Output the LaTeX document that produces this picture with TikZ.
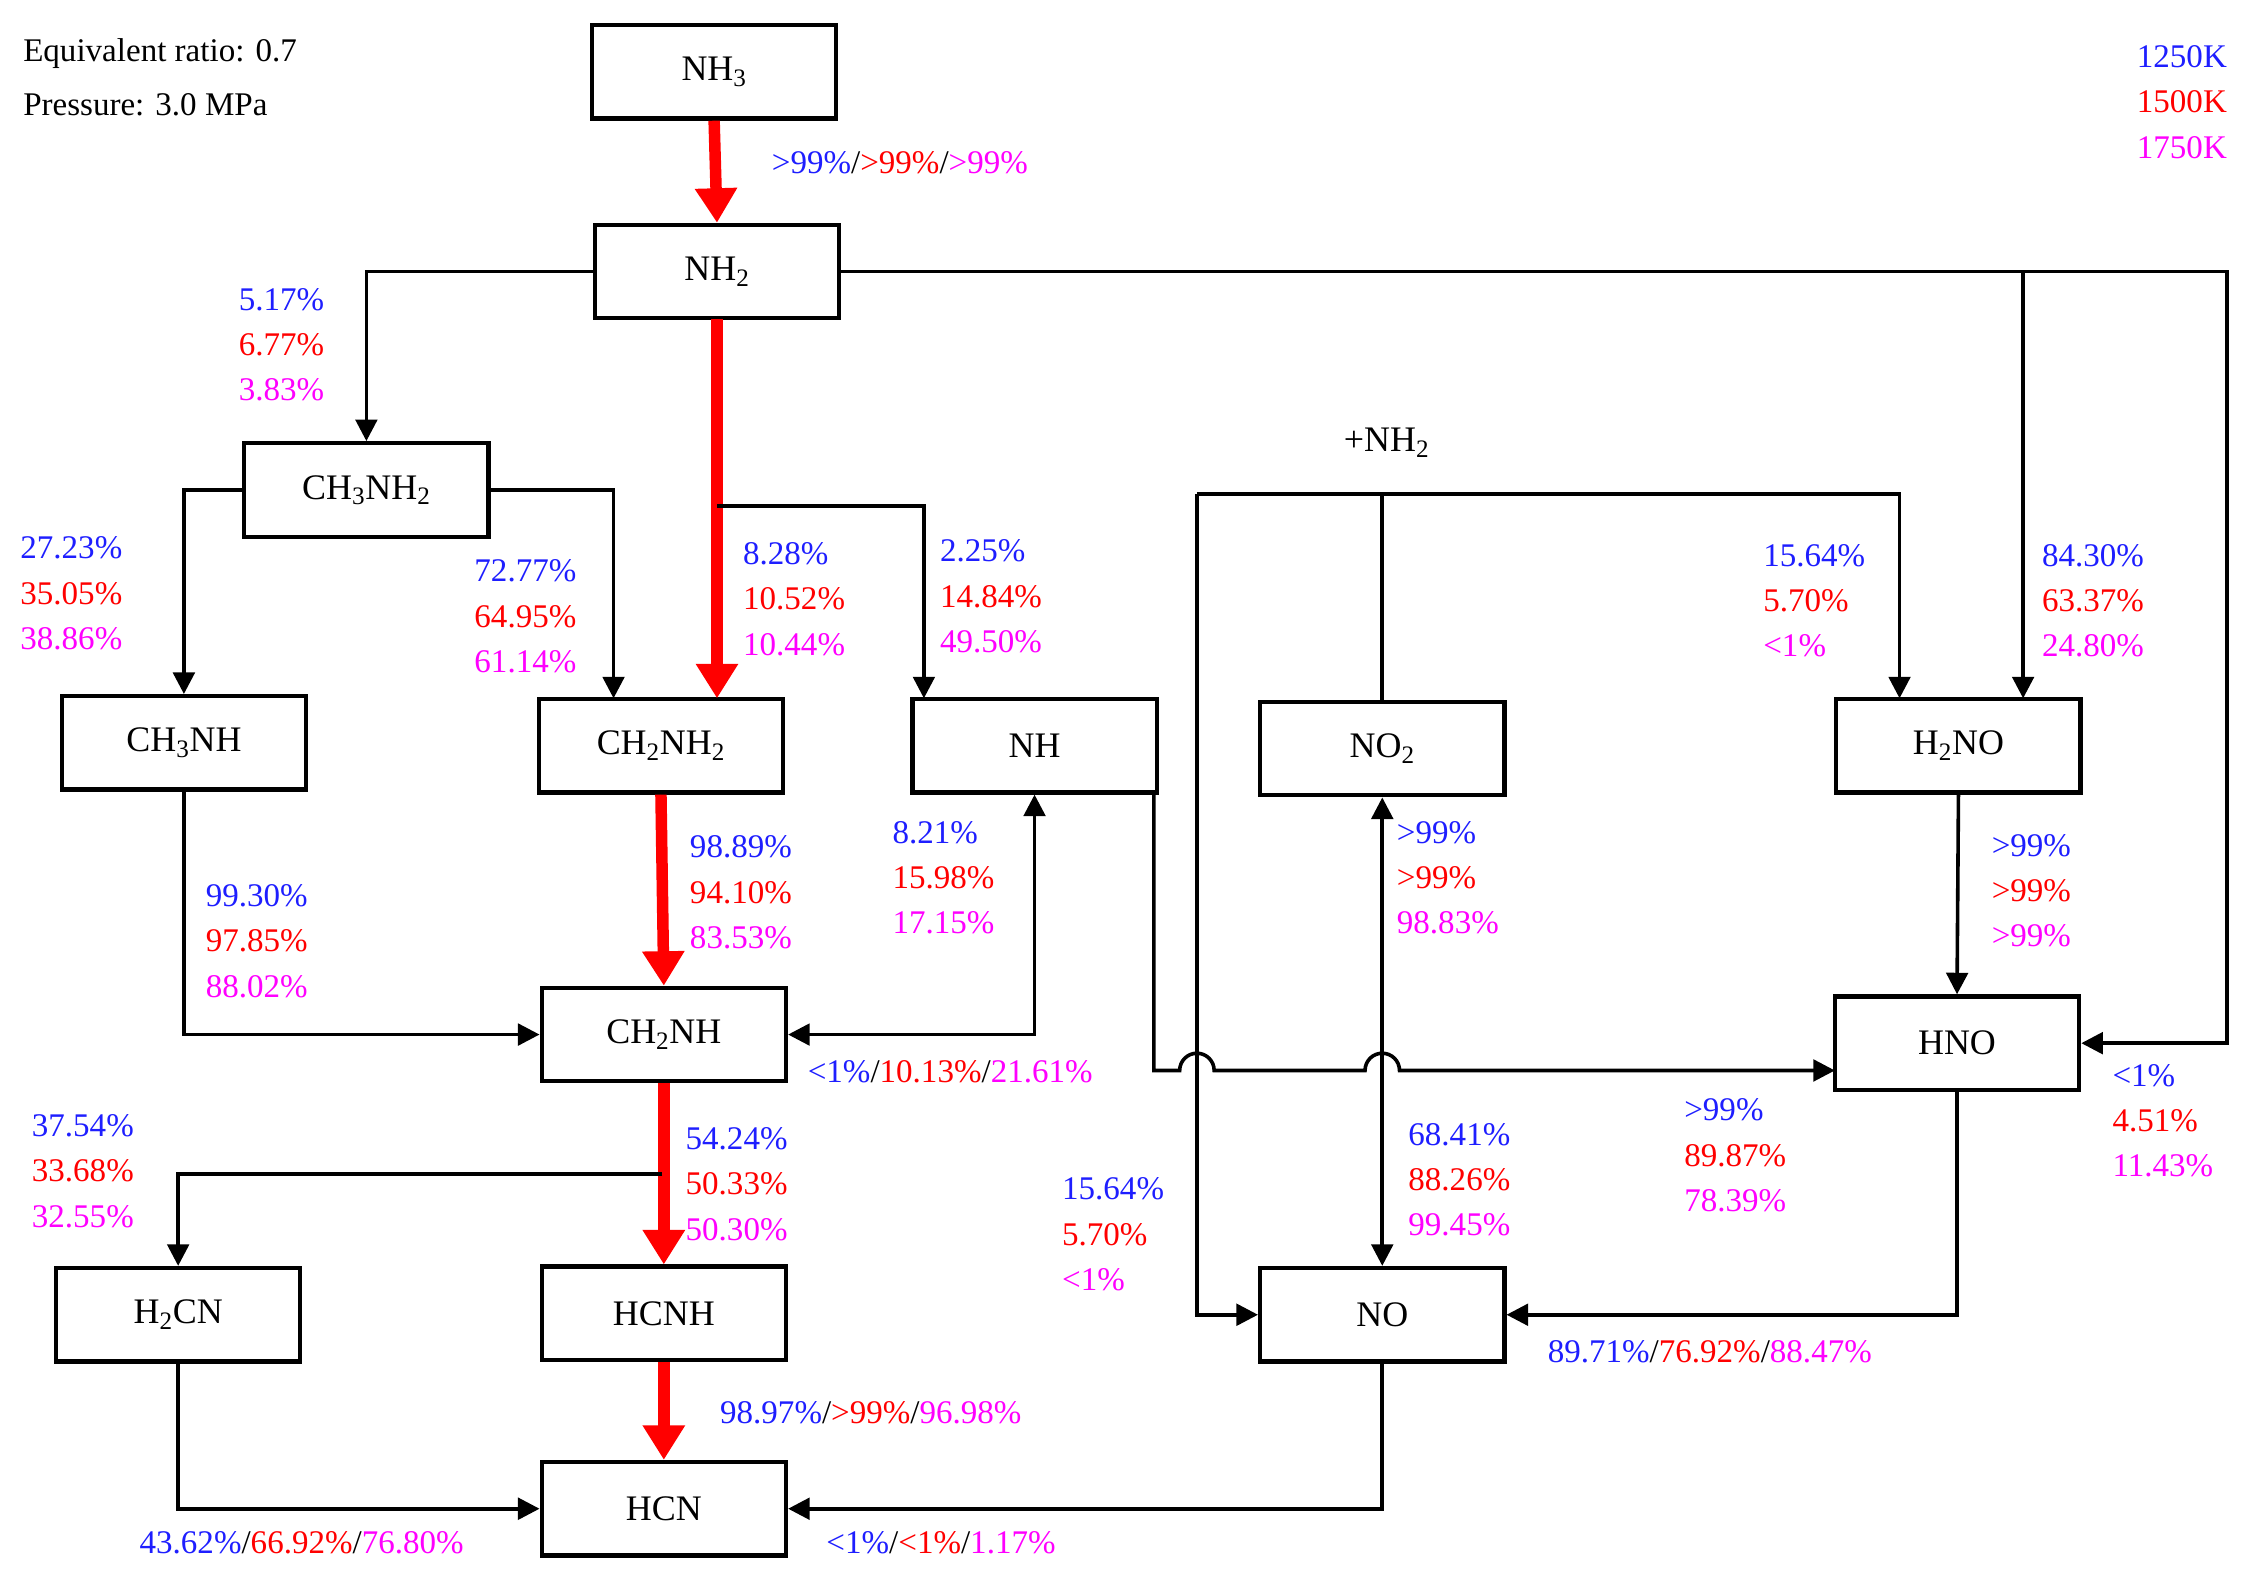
\documentclass[tikz,border=0pt]{standalone}
\usepackage{fontspec}
\setmainfont{Liberation Serif}
\usetikzlibrary{arrows.meta}
\definecolor{cb}{RGB}{30,30,255}
\definecolor{cr}{RGB}{255,0,0}
\definecolor{cm}{RGB}{255,0,255}
\newcommand{\tri}[3]{\textcolor{cb}{#1}\\\textcolor{cr}{#2}\\\textcolor{cm}{#3}}
\newcommand{\lin}[3]{\textcolor{cb}{#1}/\textcolor{cr}{#2}/\textcolor{cm}{#3}}
\begin{document}
\begin{tikzpicture}[x=1pt,y=-1pt,
 box/.style={draw,line width=3pt,minimum width=170pt,minimum height=65pt,inner sep=0pt,font=\fontsize{25}{30}\selectfont},
 lab/.style={anchor=west,align=left,inner sep=0pt,font=\fontsize{23}{31.5}\selectfont},
 ar/.style={line width=2.5pt,-{Triangle[length=15pt,width=15pt]}},
 ln/.style={line width=2.5pt},
 big/.style={line width=8pt,draw=red,-{Triangle[length=24pt,width=28pt]},fill=red}]
\useasboundingbox (0,0) rectangle (1568,1100);
\node[box] (nh3) at (497,50) {NH\textsubscript{3}};
\node[box] (nh2) at (499,189) {NH\textsubscript{2}};
\node[box] (mea) at (255,341) {CH\textsubscript{3}NH\textsubscript{2}};
\node[box] (ch3nh) at (128,517) {CH\textsubscript{3}NH};
\node[box] (ch2nh2) at (460,519) {CH\textsubscript{2}NH\textsubscript{2}};
\node[box] (nh) at (720,519) {NH};
\node[box] (no2) at (962,521) {NO\textsubscript{2}};
\node[box] (h2no) at (1363,519) {H\textsubscript{2}NO};
\node[box] (ch2nh) at (462,720) {CH\textsubscript{2}NH};
\node[box] (hno) at (1362,726) {HNO};
\node[box] (h2cn) at (124,915) {H\textsubscript{2}CN};
\node[box] (hcnh) at (462,914) {HCNH};
\node[box] (no) at (962,915) {NO};
\node[box] (hcn) at (462,1050) {HCN};
% red main path
\draw[big] (nh3.south) -- (nh2.north);
\draw[big] (499,222) -- (499,486);
\draw[big] (ch2nh2.south) -- (ch2nh.north);
\draw[big] (ch2nh.south) -- (hcnh.north);
\draw[big] (hcnh.south) -- (hcn.north);
% black
\draw[ar] (nh2.west) -| (mea.north);
\coordinate (rt) at (1550,189);
\draw[ar] (nh2.east) -- (rt) |- (hno.east);
\draw[ar] (1408,189) -- (1408,486);
\draw[ar] (mea.west) -| (ch3nh.north);
\draw[ar] (mea.east) -| (427,486);
\draw[ar] (499,352) -| (643,486);
\draw[ar] (ch3nh.south) |- (ch2nh.west);
\draw[ar,{Triangle[length=15pt,width=15pt]}-{Triangle[length=15pt,width=15pt]}] (ch2nh.east) -| (nh.south);
\draw[ar] (803,552) -- (803,745) -- (821,745) arc[start angle=180,end angle=0,x radius=12pt,y radius=12pt] -- (950,745) arc[start angle=180,end angle=0,x radius=12pt,y radius=12pt] -- (1277,745);
\draw[ln] (no2.north) -- (962,344);
\draw[ar] (833,344) -- (1322,344) -- (1322,486);
\draw[ar] (833,344) |- (no.west);
\draw[ar,{Triangle[length=15pt,width=15pt]}-{Triangle[length=15pt,width=15pt]}] (no2.south) -- (no.north);
\draw[ar] (h2no.south) -- (hno.north);
\draw[ar] (hno.south) |- (no.east);
\draw[ar] (461,817) -| (h2cn.north);
\draw[ar] (h2cn.south) |- (hcn.west);
\draw[ar] (no.south) |- (hcn.east);
% labels
\node[lab,anchor=west] at (16,37) {Equivalent ratio: 0.7};
\node[lab,anchor=west] at (16,73) {Pressure: 3.0 MPa};
\node[lab,anchor=east,align=right] at (1550,71) {\tri{1250K}{1500K}{1750K}};
\node[font=\fontsize{25}{30}\selectfont,inner sep=0pt] at (965,308) {+NH\textsubscript{2}};
\node[lab] at (537,113) {\lin{>99\%}{>99\%}{>99\%}};
\node[lab] at (166,240) {\tri{5.17\%}{6.77\%}{3.83\%}};
\node[lab] at (14,413) {\tri{27.23\%}{35.05\%}{38.86\%}};
\node[lab] at (330,429) {\tri{72.77\%}{64.95\%}{61.14\%}};
\node[lab] at (517,417) {\tri{8.28\%}{10.52\%}{10.44\%}};
\node[lab] at (654,415) {\tri{2.25\%}{14.84\%}{49.50\%}};
\node[lab] at (1227,418) {\tri{15.64\%}{5.70\%}{<1\%}};
\node[lab] at (1421,418) {\tri{84.30\%}{63.37\%}{24.80\%}};
\node[lab] at (143,655) {\tri{99.30\%}{97.85\%}{88.02\%}};
\node[lab] at (480,621) {\tri{98.89\%}{94.10\%}{83.53\%}};
\node[lab] at (621,611) {\tri{8.21\%}{15.98\%}{17.15\%}};
\node[lab] at (972,611) {\tri{>99\%}{>99\%}{98.83\%}};
\node[lab] at (1386,620) {\tri{>99\%}{>99\%}{>99\%}};
\node[lab] at (562,746) {\lin{<1\%}{10.13\%}{21.61\%}};
\node[lab] at (22,815) {\tri{37.54\%}{33.68\%}{32.55\%}};
\node[lab] at (477,824) {\tri{54.24\%}{50.33\%}{50.30\%}};
\node[lab] at (739,859) {\tri{15.64\%}{5.70\%}{<1\%}};
\node[lab] at (980,821) {\tri{68.41\%}{88.26\%}{99.45\%}};
\node[lab] at (1172,804) {\tri{>99\%}{89.87\%}{78.39\%}};
\node[lab] at (1470,780) {\tri{<1\%}{4.51\%}{11.43\%}};
\node[lab] at (1077,941) {\lin{89.71\%}{76.92\%}{88.47\%}};
\node[lab] at (501,983) {\lin{98.97\%}{>99\%}{96.98\%}};
\node[lab] at (97,1074) {\lin{43.62\%}{66.92\%}{76.80\%}};
\node[lab] at (575,1074) {\lin{<1\%}{<1\%}{1.17\%}};
\end{tikzpicture}
\end{document}
